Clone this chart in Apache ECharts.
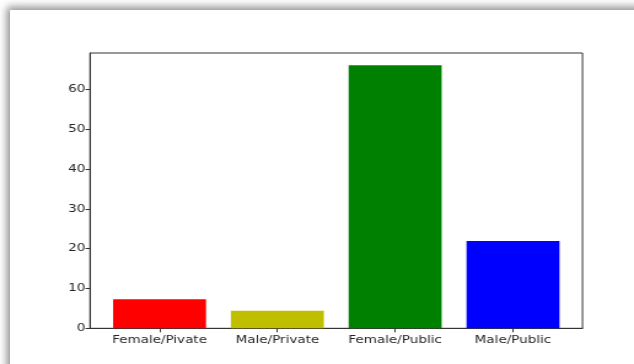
<!DOCTYPE html>
<html>
<head>
<meta charset="utf-8">
<script src="https://cdn.jsdelivr.net/npm/echarts@6/dist/echarts.min.js"></script>
<style>
  html, body { margin: 0; padding: 0; background: #fff; overflow: hidden; }
  #stage { position: relative; width: 634px; height: 364px; overflow: hidden; background: #fff; }
  #sheet {
    position: absolute; left: 10px; top: 10px; width: 700px; height: 400px;
    background: #fff; box-shadow: -3px -3px 8px rgba(0,0,0,0.45);
  }
  #chart {
    position: absolute; left: 0; top: 0; width: 516px; height: 364px;
    transform: scaleX(1.2287); transform-origin: 0 0;
  }
</style>
</head>
<body>
<div id="stage">
  <div id="sheet"></div>
  <div id="chart"></div>
</div>
<script>
// Enrolment counts by gender and school type
const categories = ['Female/Pivate', 'Male/Private', 'Female/Public', 'Male/Public'];
const counts = [7.3, 4.4, 66, 21.9];
const barColors = ['#ff0000', '#bfbf00', '#008000', '#0000ff'];
const yTicks = [0, 10, 20, 30, 40, 50, 60];

// the figure is drawn narrow and stretched horizontally
const SX = 1.2287;
const px = v => v / SX;

const chart = echarts.init(document.getElementById('chart'), null, { renderer: 'canvas' });

const font = { fontFamily: 'DejaVu Sans', fontSize: 11, color: '#262626' };

chart.setOption({
  animation: false,
  backgroundColor: 'transparent',
  grid: {
    left: px(90), top: 53, width: px(582.5 - 90), height: 328.3 - 53,
    show: true, borderColor: '#333', borderWidth: 1, backgroundColor: 'transparent'
  },
  xAxis: {
    type: 'value',
    min: -0.59, max: 3.59,
    splitLine: { show: false },
    axisLine: { show: true, onZero: false, lineStyle: { color: '#333', width: 1 } },
    axisTick: { show: true, length: 4, customValues: categories.map((_, i) => i), lineStyle: { color: '#333' } },
    axisLabel: {
      ...font, margin: 6,
      customValues: categories.map((_, i) => i),
      formatter: v => categories[Math.round(v)]
    }
  },
  yAxis: {
    type: 'value',
    min: 0, max: 69.1,
    splitLine: { show: false },
    axisLine: { show: true, onZero: false, lineStyle: { color: '#333', width: 1 } },
    axisTick: { show: true, length: px(4.5), customValues: yTicks, lineStyle: { color: '#333' } },
    axisLabel: { ...font, margin: px(4.5), customValues: yTicks }
  },
  series: [{
    type: 'bar',
    barWidth: px(93),
    data: counts.map((v, i) => ({ value: [i, v], itemStyle: { color: barColors[i] } }))
  }]
});
</script>
</body>
</html>
